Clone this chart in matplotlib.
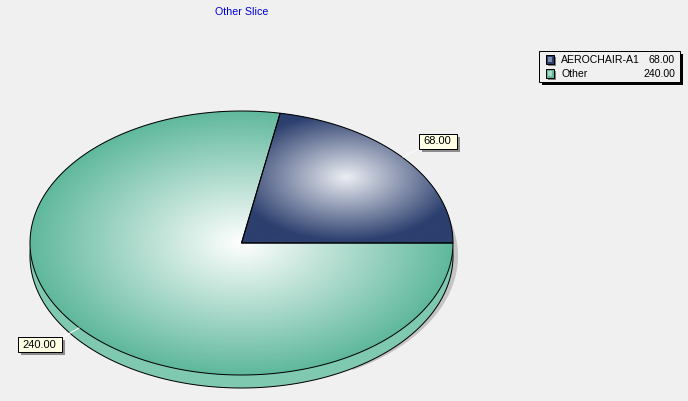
"""Pie chart with a fake 3D rim, gradient slices and boxed labels."""

import numpy as np
import matplotlib
matplotlib.use("Agg")
import matplotlib.pyplot as plt
from matplotlib.colors import LinearSegmentedColormap
from matplotlib.patches import Polygon, Rectangle

categories = ["AEROCHAIR-A1", "Other"]
values = [68.00, 240.00]
title = "Other Slice"

plt.rcParams["font.family"] = ["Liberation Sans", "DejaVu Sans"]

BG = "#f0f0f0"
CX, CY, RX, RY = 241.5, 243, 211.5, 132
DEPTH = 13
LW = 0.72  # one pixel at dpi 100

fig = plt.figure(figsize=(6.88, 4.01), dpi=100, facecolor=BG)
ax = fig.add_axes([0, 0, 1, 1])
ax.set_xlim(0, 688)
ax.set_ylim(401, 0)
ax.axis("off")


def arc(a0, a1, dy=0, dx=0):
    t = np.radians(np.linspace(a0, a1, 300))
    return np.column_stack([CX + dx + RX * np.cos(t), CY + dy - RY * np.sin(t)])


def gradient(patch, center, radius, inner, outer):
    # radial fill clipped to the slice
    xx, yy = np.meshgrid(np.arange(0, 688), np.arange(0, 401))
    d = np.hypot((xx - center[0]) / radius[0], (yy - center[1]) / radius[1])
    cmap = LinearSegmentedColormap.from_list("g", [inner, outer])
    im = ax.imshow(np.clip(d, 0, 1), cmap=cmap, vmin=0, vmax=1,
                   extent=(-0.5, 687.5, 400.5, -0.5), zorder=3, aspect="auto",
                   interpolation="bilinear")
    im.set_clip_path(patch)


def label_box(x0, y0, w, h, text):
    ax.add_patch(Rectangle((x0 + 3, y0 + 3), w, h, fc="#8c8c8c", ec="none", zorder=6))
    ax.add_patch(Rectangle((x0, y0), w, h, fc="#ffffe6", ec="black", lw=LW, zorder=7))
    ax.text(x0 + w / 2, y0 + h / 2 + 0.5, text, ha="center", va="center",
            fontsize=8, color="black", zorder=8)


# shadow, then rim below the top face
ax.add_patch(Polygon(arc(-60, 25, dy=DEPTH, dx=5), fc="#c4c4c4", ec="none", zorder=1))
ax.add_patch(Polygon(arc(0, 360, dy=DEPTH), fc="#7fc9b0", ec="black", lw=LW, zorder=2))

# slices from the values
angles = np.cumsum([0] + values) / sum(values) * 360
centre = np.array([[CX, CY]])
colors = [("#eceef3", "#2c3f6e"), ("#ffffff", "#5fb89c")]
grad_center = [(346, 178), (CX, CY)]
grad_radius = [(112, 64), (RX, RY)]

for i, val in enumerate(values):
    pts = np.vstack([centre, arc(angles[i], angles[i + 1])])
    base = Polygon(pts, fc=colors[i][1], ec="none", zorder=2.5)
    ax.add_patch(base)
    gradient(base, grad_center[i], grad_radius[i], colors[i][0], colors[i][1])
    ax.add_patch(Polygon(pts, fc="none", ec="black", lw=LW, zorder=4))

# leader lines
ax.plot([403, 420], [157, 148], color="white", lw=LW, zorder=5)
ax.plot([79, 63], [328, 337], color="white", lw=LW, zorder=5)

label_box(418.5, 133.5, 38, 15, f"{values[0]:.2f}")
label_box(17.5, 337, 44, 15, f"{values[1]:.2f}")

ax.text(241.5, 11.7, title, ha="center", va="center", fontsize=7.7, color="#0000e0", zorder=8)

# legend
ax.add_patch(Rectangle((541.5, 53.5), 141, 31, fc="black", ec="none", zorder=6))
ax.add_patch(Rectangle((538.5, 50.5), 141, 31, fc=BG, ec="black", lw=LW, zorder=7))
for i, name in enumerate(categories):
    y = 59.5 + 14 * i
    ax.add_patch(Rectangle((547.5, y - 3), 8, 9, fc="#808080", ec="none", zorder=8))
    ax.add_patch(Rectangle((545.5, y - 4.5), 8, 9, fc=colors[i][1], ec="black", lw=LW, zorder=8))
    ax.add_patch(Rectangle((547.5, y - 2.5), 4, 5, fc=colors[i][0], ec="none", alpha=0.45, zorder=9))
    ax.text(561, y + 0.5, name, ha="left", va="center", fontsize=7.6, zorder=9)
    ax.text(675, y + 0.5, f"{values[i]:.2f}", ha="right", va="center", fontsize=7.6, zorder=9)

fig.savefig("out.png", dpi=100, facecolor=BG)
